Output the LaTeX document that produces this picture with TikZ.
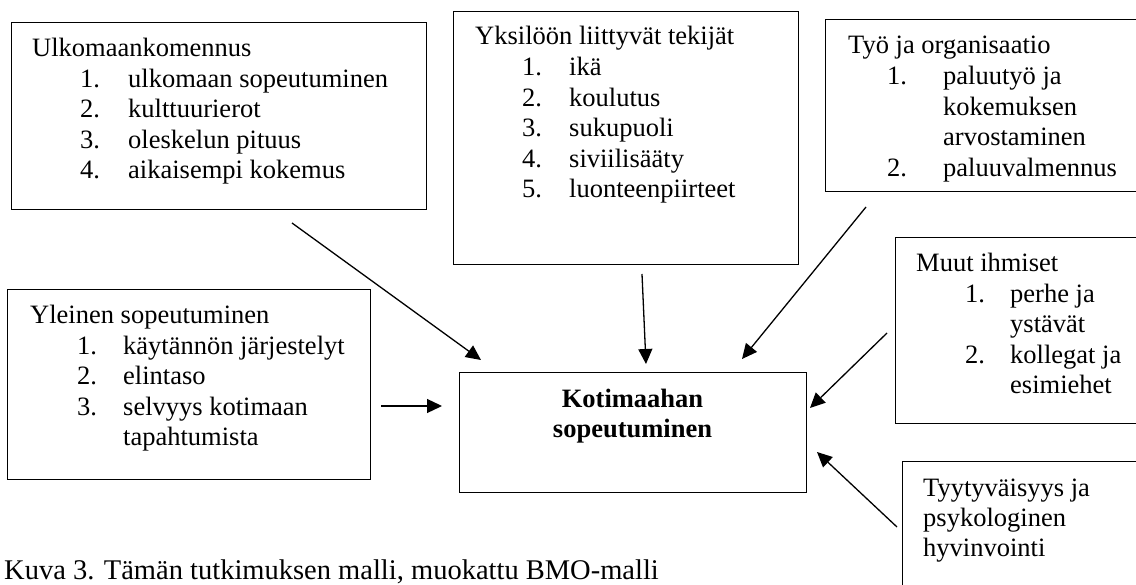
\documentclass[tikz,border=0pt]{standalone}
\usepackage{fontspec}
\setmainfont{Liberation Serif}
\usetikzlibrary{arrows.meta}
\begin{document}
\begin{tikzpicture}[x=1pt,y=-1pt,
  boxnode/.style={draw=black, line width=1.1pt, inner sep=0pt, anchor=north west},
  txt/.style={inner sep=0pt, anchor=base west, font=\fontsize{26.5}{30.5}\selectfont},
  btxt/.style={inner sep=0pt, anchor=base, font=\fontsize{26.5}{30.5}\selectfont\bfseries},
  captxt/.style={inner sep=0pt, anchor=base west, font=\fontsize{28.5}{34}\selectfont},
  arr/.style={line width=1.3pt, -{Triangle[length=15pt,width=14pt]}}]
\useasboundingbox (0,0) rectangle (1136,585);
\clip (0,0) rectangle (1136,585);
% boxes
\node[boxnode, minimum width=415pt, minimum height=187pt] (bA) at (11,22) {};
\node[boxnode, minimum width=345pt, minimum height=253pt] (bB) at (453,11) {};
\node[boxnode, minimum width=330pt, minimum height=172pt] (bC) at (825,19) {};
\node[boxnode, minimum width=363pt, minimum height=190pt] (bD) at (7,289) {};
\node[boxnode, minimum width=347pt, minimum height=120pt] (bE) at (459,372) {};
\node[boxnode, minimum width=260pt, minimum height=186pt] (bF) at (895,237) {};
\node[boxnode, minimum width=260pt, minimum height=150pt] (bG) at (902,461) {};
% box A text
\node[txt] (a0) at (32,57) {Ulkomaankomennus};
\node[txt] (a1n) at (80,87.5) {1.};
\node[txt] (a1) at (128,87.5) {ulkomaan sopeutuminen};
\node[txt] (a2n) at (80,118) {2.};
\node[txt] (a2) at (128,118) {kulttuurierot};
\node[txt] (a3n) at (80,148.5) {3.};
\node[txt] (a3) at (128,148.5) {oleskelun pituus};
\node[txt] (a4n) at (80,179) {4.};
\node[txt] (a4) at (128,179) {aikaisempi kokemus};
% box B text
\node[txt] (b0) at (475,45) {Yksilöön liittyvät tekijät};
\node[txt] (b1n) at (522,76) {1.};
\node[txt] (b1) at (569,76) {ikä};
\node[txt] (b2n) at (522,106.5) {2.};
\node[txt] (b2) at (569,106.5) {koulutus};
\node[txt] (b3n) at (522,137) {3.};
\node[txt] (b3) at (569,137) {sukupuoli};
\node[txt] (b4n) at (522,167.5) {4.};
\node[txt] (b4) at (569,167.5) {siviilisääty};
\node[txt] (b5n) at (522,198) {5.};
\node[txt] (b5) at (569,198) {luonteenpiirteet};
% box C text
\node[txt] (c0) at (848,54) {Työ ja organisaatio};
\node[txt] (c1n) at (887,85) {1.};
\node[txt] (c1) at (943,85) {paluutyö ja};
\node[txt] (c1b) at (943,115.5) {kokemuksen};
\node[txt] (c1c) at (943,146) {arvostaminen};
\node[txt] (c2n) at (887,176.5) {2.};
\node[txt] (c2) at (943,176.5) {paluuvalmennus};
% box D text
\node[txt] (d0) at (30,324) {Yleinen sopeutuminen};
\node[txt] (d1n) at (77,354.5) {1.};
\node[txt] (d1) at (123,354.5) {käytännön järjestelyt};
\node[txt] (d2n) at (77,385) {2.};
\node[txt] (d2) at (123,385) {elintaso};
\node[txt] (d3n) at (77,415.5) {3.};
\node[txt] (d3) at (123,415.5) {selvyys kotimaan};
\node[txt] (d3b) at (123,446) {tapahtumista};
% box E text
\node[btxt] (e1) at (632.5,408) {Kotimaahan};
\node[btxt] (e2) at (632.5,438) {sopeutuminen};
% box F text
\node[txt] (f0) at (916,272) {Muut ihmiset};
\node[txt] (f1n) at (965,302.5) {1.};
\node[txt] (f1) at (1010,302.5) {perhe ja};
\node[txt] (f1b) at (1010,333) {ystävät};
\node[txt] (f2n) at (965,363.5) {2.};
\node[txt] (f2) at (1010,363.5) {kollegat ja};
\node[txt] (f2b) at (1010,394) {esimiehet};
% box G text
\node[txt] (g1) at (923,496.5) {Tyytyväisyys ja};
\node[txt] (g2) at (923,526.5) {psykologinen};
\node[txt] (g3) at (923,556.5) {hyvinvointi};
% caption
\node[captxt] (cap) at (4,579) {Kuva 3. Tämän tutkimuksen malli, muokattu BMO-malli};
% arrow end points
\coordinate (pA) at (292,223);  \coordinate (qA) at (481,360);
\coordinate (pB) at (642,274);  \coordinate (qB) at (646,364);
\coordinate (pC) at (866,207);  \coordinate (qC) at (742,359);
\coordinate (pD) at (381,406);  \coordinate (qD) at (442,406);
\coordinate (pF) at (887,333);  \coordinate (qF) at (810,408);
\coordinate (pG) at (897,527);  \coordinate (qG) at (817,452);
\draw[arr] (pA) -- (qA);
\draw[arr] (pB) -- (qB);
\draw[arr] (pC) -- (qC);
\draw[arr] (pD) -- (qD);
\draw[arr] (pF) -- (qF);
\draw[arr] (pG) -- (qG);
\end{tikzpicture}
\end{document}
